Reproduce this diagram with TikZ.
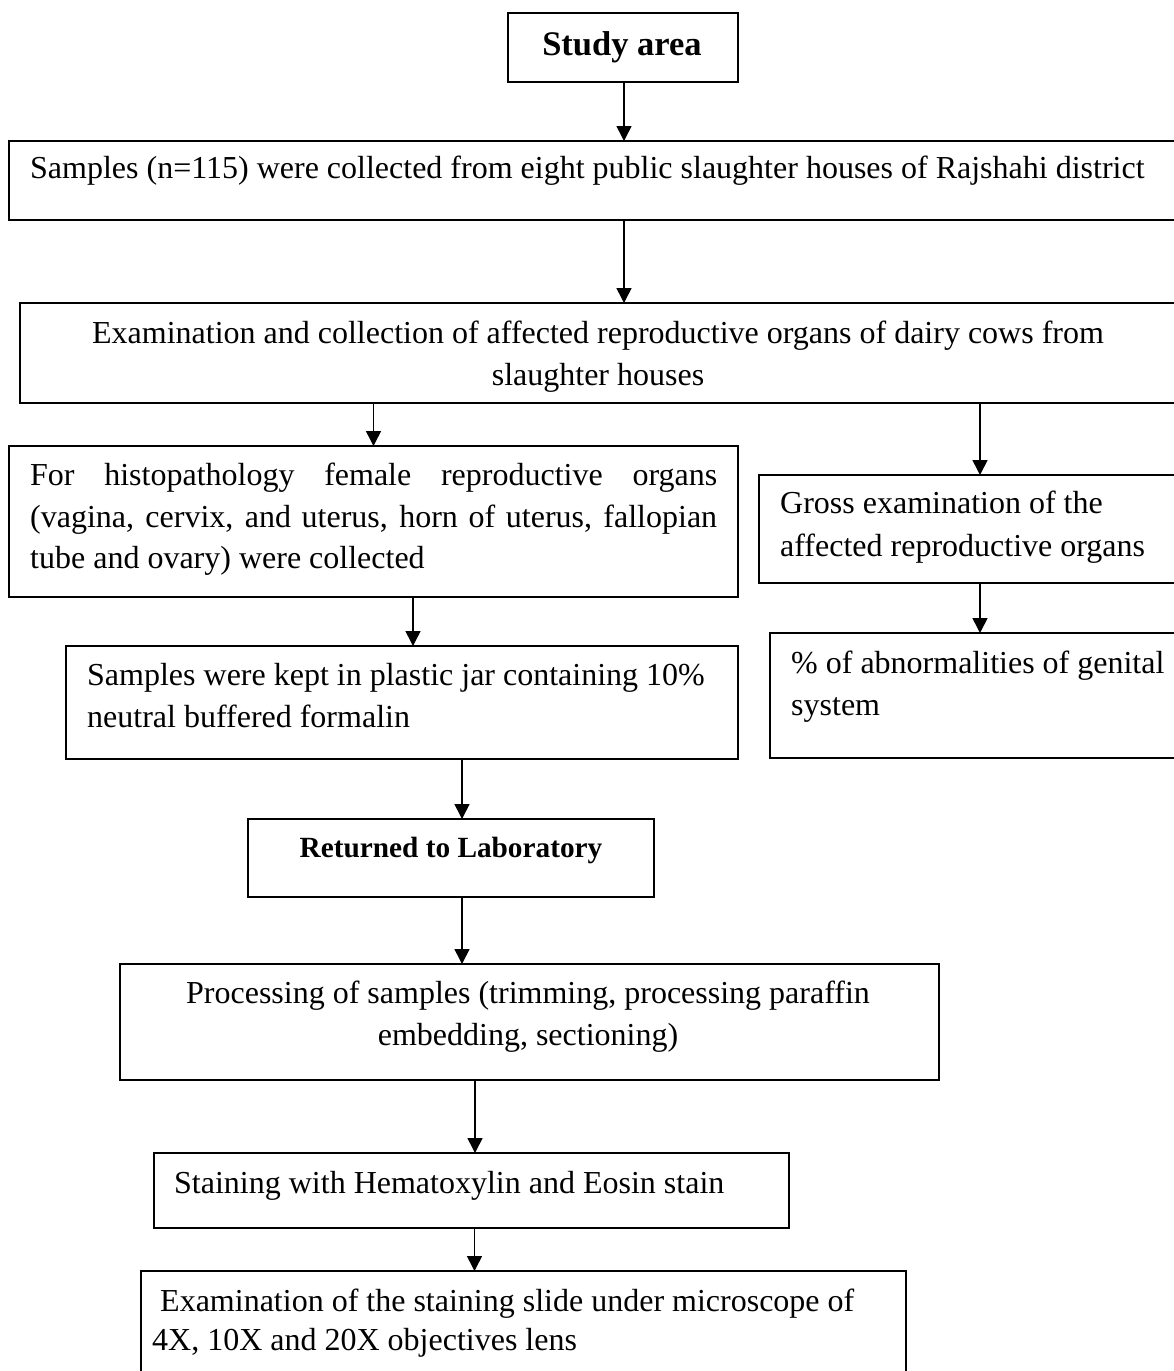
\documentclass[tikz,border=0pt]{standalone}
\usepackage{fontspec}
\setmainfont{Liberation Serif}
\usetikzlibrary{arrows.meta}
\begin{document}
\begin{tikzpicture}[x=1pt,y=-1pt,
  box/.style={draw=black, line width=2pt, inner sep=0pt, outer sep=0pt, rectangle},
  arr/.style={line width=1.6pt, -{Triangle[length=15pt,width=15pt]}},
  txt/.style={inner sep=0pt, anchor=base west},
  ctxt/.style={inner sep=0pt, anchor=base},
  every node/.append style={font=\fontsize{32}{42.3}\selectfont}]
\useasboundingbox (0,0) rectangle (1173,1371);
% boxes
\node[box, minimum width=230pt, minimum height=69pt]  (B1)  at (623,47.5) {};
\node[box, minimum width=1171pt, minimum height=79pt] (B2)  at (594.5,180.5) {};
\node[box, minimum width=1158pt, minimum height=100pt] (B3) at (599,353) {};
\node[box, minimum width=729pt, minimum height=151pt] (B4)  at (373.5,521.5) {};
\node[box, minimum width=421pt, minimum height=108pt] (B5)  at (969.5,529) {};
\node[box, minimum width=672pt, minimum height=113pt] (B6)  at (402,702.5) {};
\node[box, minimum width=410pt, minimum height=125pt] (B7)  at (975,695.5) {};
\node[box, minimum width=406pt, minimum height=78pt]  (B8)  at (451,858) {};
\node[box, minimum width=819pt, minimum height=116pt] (B9)  at (529.5,1022) {};
\node[box, minimum width=635pt, minimum height=75pt]  (B10) at (471.5,1190.5) {};
\node[box, minimum width=765pt, minimum height=109pt] (B11) at (523.5,1325.5) {};
% texts
\node[ctxt, font=\fontsize{34.5}{40}\selectfont\bfseries] (t1) at (622,55) {Study area};
\node[txt] (t2) at (30,178) {Samples (n=115) were collected from eight public slaughter houses of Rajshahi district};
\node[ctxt] (t3a) at (598,343) {Examination and collection of affected reproductive organs of dairy cows from};
\node[ctxt] (t3b) at (598,385) {slaughter houses};
\node[txt] (t4a) at (30,485) {\makebox[687pt][s]{For histopathology female reproductive organs}};
\node[txt] (t4b) at (30,527) {\makebox[687pt][s]{(vagina, cervix, and uterus, horn of uterus, fallopian}};
\node[txt] (t4c) at (30,568) {tube and ovary) were collected};
\node[txt] (t5a) at (780,513) {Gross examination of the};
\node[txt] (t5b) at (780,556) {affected reproductive organs};
\node[txt] (t6a) at (87,685) {Samples were kept in plastic jar containing 10\%};
\node[txt] (t6b) at (87,727) {neutral buffered formalin};
\node[txt] (t7a) at (791,673) {\% of abnormalities of genital};
\node[txt] (t7b) at (791,715) {system};
\node[ctxt, font=\fontsize{29.3}{36}\selectfont\bfseries] (t8) at (451,857) {Returned to Laboratory};
\node[ctxt] (t9a) at (528,1003) {Processing of samples (trimming, processing paraffin};
\node[ctxt] (t9b) at (528,1045) {embedding, sectioning)};
\node[txt] (t10) at (174,1193) {Staining with Hematoxylin and Eosin stain};
\node[txt] (t11a) at (160,1311) {Examination of the staining slide under microscope of};
\node[txt] (t11b) at (152,1350) {4X, 10X and 20X objectives lens};
% connectors
\draw[arr] ([xshift=1pt]B1.south) -- ([xshift=1pt]B1.south |- B2.north);
\draw[arr] ([xshift=1pt]B1.south |- B2.south) -- ([xshift=1pt]B1.south |- B3.north);
\draw[arr] (B4.north |- B3.south) -- (B4.north);
\draw[arr] ([xshift=10.5pt]B5.north |- B3.south) -- ([xshift=10.5pt]B5.north);
\draw[arr] ([xshift=11pt]B6.north |- B4.south) -- ([xshift=11pt]B6.north);
\draw[arr] ([xshift=10.5pt]B5.south) -- ([xshift=10.5pt]B5.south |- B7.north);
\draw[arr] ([xshift=11pt]B8.north |- B6.south) -- ([xshift=11pt]B8.north);
\draw[arr] ([xshift=11pt]B8.south) -- ([xshift=11pt]B8.south |- B9.north);
\draw[arr] ([xshift=3.5pt]B10.north |- B9.south) -- ([xshift=3.5pt]B10.north);
\draw[arr] ([xshift=3pt]B10.south) -- ([xshift=3pt]B10.south |- B11.north);
\end{tikzpicture}
\end{document}
